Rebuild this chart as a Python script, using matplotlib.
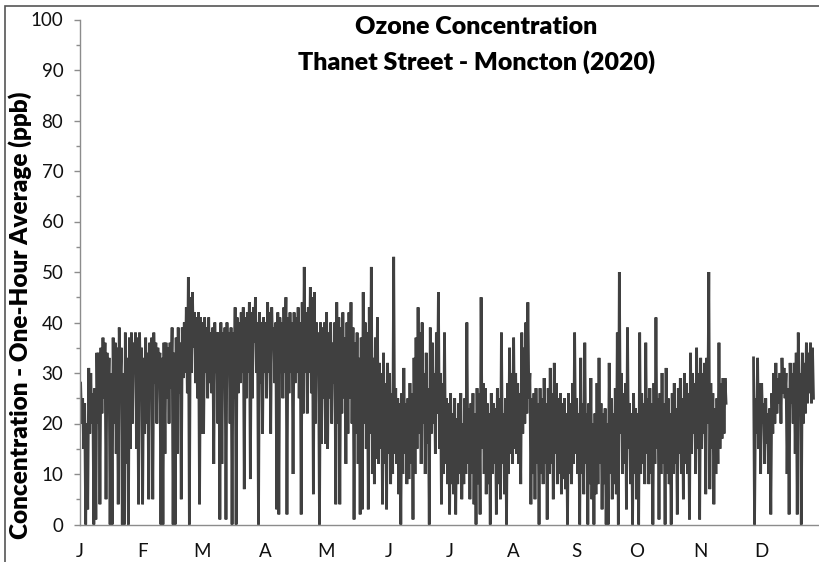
import numpy as np
import matplotlib
matplotlib.use("Agg")
import matplotlib.pyplot as plt
from matplotlib.patches import Rectangle

# daily high / low of the hourly ozone readings (ppb)
# one line per month, nan = no data
nan = np.nan
daily_high = [
    28, 25, 24, 20, 31, 30, 26, 27, 34, 34, 35, 37, 36, 34, 33, 30, 37, 36, 35, 39, 35, 30, 38, 33, 37, 38, 36, 38, 37, 38, 35,
    33, 37, 34, 36, 37, 38, 36, 35, 34, 33, 36, 36, 35, 36, 39, 34, 37, 39, 36, 39, 40, 43, 49, 45, 46, 42, 41, 42, 41,
    40, 41, 39, 41, 38, 39, 40, 38, 38, 40, 38, 39, 40, 38, 39, 38, 43, 41, 40, 42, 43, 41, 42, 44, 42, 43, 45, 40, 42, 40, 41,
    40, 44, 42, 43, 39, 40, 42, 41, 40, 43, 45, 41, 42, 40, 42, 41, 43, 40, 44, 51, 42, 43, 47, 45, 46, 40, 38, 40, 39, 40,
    42, 38, 40, 36, 40, 44, 41, 39, 42, 37, 40, 42, 44, 39, 36, 38, 33, 37, 46, 40, 38, 43, 51, 33, 37, 41, 32, 30, 34, 28, 32,
    30, 26, 53, 27, 25, 24, 26, 31, 24, 25, 28, 26, 33, 37, 43, 38, 40, 30, 34, 27, 39, 36, 30, 38, 46, 30, 28, 38, 25, 24,
    26, 22, 25, 21, 24, 26, 20, 25, 40, 23, 24, 26, 22, 27, 26, 45, 28, 27, 24, 22, 26, 24, 23, 27, 25, 38, 22, 25, 28, 35, 30,
    37, 30, 28, 26, 38, 35, 40, 44, 30, 25, 26, 27, 24, 27, 25, 29, 24, 27, 31, 26, 32, 28, 25, 26, 24, 25, 22, 26, 24, 28, 38,
    25, 22, 33, 24, 36, 22, 24, 29, 20, 22, 28, 33, 24, 22, 23, 20, 32, 25, 22, 27, 38, 50, 30, 26, 28, 39, 24, 22, 26, 23,
    22, 38, 26, 24, 36, 25, 27, 24, 28, 41, 25, 26, 30, 24, 31, 25, 22, 26, 28, 23, 27, 29, 25, 30, 28, 26, 34, 30, 28, 35, 30,
    33, 30, 32, 33, 50, 28, 26, 23, 25, 36, 28, 29, 29, nan, nan, nan, nan, nan, nan, nan, nan, nan, nan, nan, nan, nan, 33, 25, 33, 28,
    28, 24, 25, 22, 23, 26, 30, 32, 29, 30, 33, 31, 30, 27, 32, 30, 32, 34, 38, 30, 34, 32, 36, 34, 36, 35,
]
daily_low = [
    20, 15, 0, 3, 18, 20, 0, 1, 20, 4, 22, 25, 5, 24, 0, 0, 20, 14, 4, 28, 0, 0, 12, 0, 15, 20, 30, 15, 4, 25, 4,
    18, 20, 5, 26, 5, 28, 20, 30, 0, 0, 14, 25, 20, 27, 0, 0, 14, 26, 5, 29, 30, 26, 0, 30, 35, 28, 25, 4, 18,
    18, 30, 25, 28, 26, 12, 30, 20, 1, 12, 28, 1, 30, 20, 0, 25, 0, 26, 28, 30, 7, 25, 30, 9, 25, 36, 30, 0, 28, 18, 30,
    25, 30, 18, 35, 28, 3, 2, 30, 25, 30, 2, 26, 30, 10, 28, 30, 25, 2, 22, 30, 22, 30, 26, 6, 20, 30, 0, 16, 25, 16,
    15, 25, 20, 28, 4, 20, 4, 22, 25, 12, 18, 25, 20, 1, 18, 12, 2, 3, 20, 15, 3, 18, 10, 8, 13, 12, 15, 4, 12, 3, 14,
    8, 10, 14, 12, 6, 0, 10, 14, 8, 9, 12, 1, 10, 15, 18, 12, 20, 10, 16, 0, 18, 20, 14, 22, 15, 4, 10, 12, 8, 2,
    8, 6, 2, 8, 10, 5, 8, 10, 12, 5, 10, 4, 0, 8, 2, 15, 10, 6, 8, 0, 10, 12, 2, 8, 5, 12, 6, 0, 10, 14, 12,
    15, 14, 12, 8, 18, 20, 22, 25, 4, 10, 5, 12, 0, 10, 8, 12, 1, 10, 12, 5, 14, 8, 10, 6, 9, 7, 0, 10, 8, 12, 14,
    10, 0, 10, 6, 12, 0, 8, 5, 0, 6, 8, 12, 3, 8, 0, 0, 10, 5, 8, 6, 0, 18, 10, 12, 3, 15, 8, 0, 10, 5,
    0, 10, 12, 8, 14, 8, 10, 0, 12, 15, 1, 10, 12, 0, 10, 8, 0, 10, 12, 2, 14, 10, 5, 12, 10, 1, 14, 18, 10, 15, 1,
    15, 18, 6, 20, 7, 15, 4, 10, 12, 15, 17, 18, 24, nan, nan, nan, nan, nan, nan, nan, nan, nan, nan, nan, nan, nan, 0, 18, 15, 10,
    20, 12, 16, 10, 2, 18, 20, 22, 24, 20, 26, 25, 10, 2, 24, 20, 14, 2, 25, 0, 20, 22, 24, 26, 24, 25,
]
month_labels = ["J", "F", "M", "A", "M", "J", "J", "A", "S", "O", "N", "D"]
month_starts = [0, 31, 60, 91, 121, 152, 182, 213, 244, 274, 305, 335]

# interleave high / low so the trace swings up and down every day
days = np.arange(len(daily_high))
x = np.column_stack([days + 0.3, days + 0.8]).ravel()
y = np.column_stack([daily_high, daily_low]).ravel().astype(float)

fig = plt.figure(figsize=(8.2, 5.62), dpi=100)
ax = fig.add_axes([80 / 820, 37.5 / 562, 740 / 820, 505 / 562])

ax.plot(x, y, color="#404040", lw=2.0, solid_joinstyle="miter")

ax.set_xlim(0, 364)
ax.set_ylim(0, 100)
ax.set_yticks(np.arange(0, 101, 10))
ax.set_yticks(np.arange(5, 100, 10), minor=True)
ax.set_xticks(month_starts)
ax.set_xticklabels(month_labels)

for side in ["top", "right"]:
    ax.spines[side].set_visible(False)
for side in ["left", "bottom"]:
    ax.spines[side].set_color("#8c8c8c")
    ax.spines[side].set_linewidth(1.0)

ax.tick_params(axis="y", which="major", direction="out", length=4, width=1, color="#8c8c8c",
               labelsize=13.5, pad=8, labelcolor="#111111")
ax.tick_params(axis="y", which="minor", direction="out", length=3, width=1, color="#8c8c8c")
ax.tick_params(axis="x", length=0, labelsize=13.5, pad=13, labelcolor="#111111")
for lab in ax.get_xticklabels() + ax.get_yticklabels():
    lab.set_family("Lato")

fig.text(20 / 820, 1 - 315 / 562, "Concentration - One-Hour Average (ppb)", rotation=90,
         ha="center", va="center", fontsize=17.5, fontweight="heavy", family="Lato")
fig.text(476 / 820, 1 - 27 / 562, "Ozone Concentration", ha="center", va="center",
         fontsize=18, fontweight="heavy", family="Lato")
fig.text(477 / 820, 1 - 62 / 562, "Thanet Street - Moncton (2020)", ha="center", va="center",
         fontsize=18, fontweight="heavy", family="Lato")

# chart border (cropped on the right and bottom in the original)
fig.patches.append(Rectangle((5.5 / 820, -0.2), 2, 1.2 - 5.5 / 562, transform=fig.transFigure,
                             fill=False, edgecolor="#555555", lw=1.2))

fig.savefig("out.png", dpi=100)
